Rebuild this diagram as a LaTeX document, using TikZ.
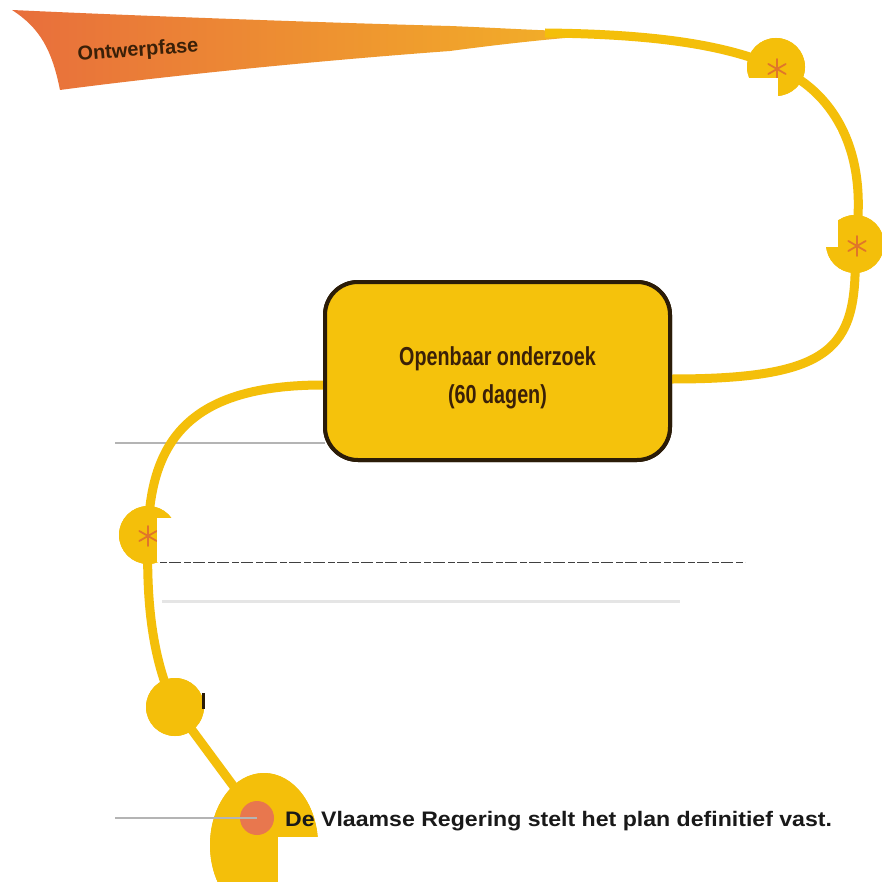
\documentclass[tikz,border=0pt]{standalone}
\usepackage{fontspec}
\setmainfont{Liberation Sans}
\usetikzlibrary{shapes.geometric}
\definecolor{roadyel}{HTML}{F4BF0A}
\definecolor{boxfill}{HTML}{F5C20C}
\definecolor{boxline}{HTML}{2B1C08}
\definecolor{astcol}{HTML}{E0762A}
\definecolor{bannerL}{HTML}{E86E3C}
\definecolor{bannerR}{HTML}{F2AE28}
\definecolor{dotorange}{HTML}{E8774E}
\definecolor{txtbrown}{HTML}{3A2008}
\definecolor{guide}{HTML}{B4B4B4}
\tikzset{
  road/.style={draw=roadyel, line width=9pt},
  stop/.style={circle, fill=roadyel, minimum size=58pt, inner sep=0pt},
  bigstop/.style={ellipse, fill=roadyel, minimum width=108pt, minimum height=144pt, inner sep=0pt},
  dotmark/.style={circle, fill=dotorange, minimum size=34pt, inner sep=0pt},
  mainbox/.style={draw=boxline, line width=4pt, fill=boxfill, rounded corners=33pt,
    minimum width=345pt, minimum height=178pt, align=center, text=txtbrown},
  guideline/.style={draw=guide, line width=1.5pt},
  mask/.style={fill=white, draw=none},
  astline/.style={draw=astcol, line width=1.8pt, line cap=round},
}
\newcommand{\astr}[1]{%
  \begin{scope}[shift={#1}]
  \draw[astline] (0,-10) -- (0,10);
  \draw[astline] (-8.7,-5) -- (8.7,5);
  \draw[astline] (-8.7,5) -- (8.7,-5);
  \end{scope}}
\begin{document}
\begin{tikzpicture}[x=1pt,y=-1pt]
\useasboundingbox (0,0) rectangle (881,882);
\fill[white] (0,0) rectangle (881,882);

% banner
\shade[left color=bannerL, right color=bannerR]
  (12,10) .. controls (120,15) and (300,22) .. (450,26)
  .. controls (500,28) and (530,30) .. (565,31)
  -- (565,38) .. controls (520,42) and (480,47) .. (450,51)
  .. controls (300,62) and (150,78) .. (60,90)
  .. controls (52,50) and (40,28) .. (12,10) -- cycle;
\node[rotate=4.5, text=txtbrown, font=\fontsize{20}{23}\selectfont\bfseries] (ontw) at (138,51) {Ontwerpfase};

% nodes
\node[stop] (c1) at (776,67) {};
\node[stop] (c2) at (855,244) {};
\node[stop] (c3) at (148,535) {};
\node[stop] (c4) at (175,707) {};
\node[bigstop] (fin) at (264,845) {};
\node[dotmark] (dot) at (257,818) {};
\coordinate (bannerEnd) at (545,33);

% guide line behind road
\draw[guideline] (115,443) -- (325,443);

% road
\draw[road] (bannerEnd) .. controls (640,34) and (720,42) .. (c1.center);
\draw[road] (c1.center) .. controls (832,90) and (870,150) .. (c2.center);
\node[mainbox] (box) at (497.5,371) {};
\draw[road] (c2.center) .. controls (858,345) and (840,379) .. ([yshift=-8pt]box.east);
\draw[road] ([yshift=-14pt]box.west) .. controls (190,385) and (150,440) .. (c3.center);
\draw[road] (c3.center) .. controls (146,600) and (152,660) .. (c4.center);
\draw[road] (c4.center) -- (dot.center);

% redraw stops on top of road
\node[stop] at (c1) {};
\node[stop] at (c2) {};
\node[stop] at (c3) {};
\node[stop] at (c4) {};
\node[bigstop] at (fin) {};
\node[dotmark] at (dot) {};
\draw[guideline] (115,818) -- (dot.center);

% box
\node[mainbox] (box2) at (box) {};
\node[text=txtbrown, align=center, font=\fontsize{26}{38}\selectfont\bfseries] (boxtext) at ([yshift=-7pt]box.center)
  {\scalebox{0.76}[1]{Openbaar onderzoek}\\\scalebox{0.76}[1]{(60 dagen)}};

% asterisks
\astr{(777,69)}
\astr{(857,246)}
\astr{(148,536)}

% masks
\fill[mask] (305,78) rectangle (778,130);
\fill[mask] (420,130) rectangle (838,247);
\fill[mask] (157,518) rectangle (760,562);
\fill[mask] (205,680) rectangle (700,730);
\fill[mask] (278,837) rectangle (881,882);

% residues
\draw[draw=black!75, line width=1pt, dash pattern=on 7pt off 2pt on 12pt off 3pt] (160,562.5) -- (745,562.5);
\draw[draw=black!10, line width=3pt] (162,601) -- (680,601);
\fill[boxline] (202,693) rectangle (205,709);

% final text
\node[anchor=base west, inner sep=0pt, text=black!90, font=\fontsize{21}{25}\selectfont\bfseries] (ftext) at (285,826)
  {\scalebox{1.1}[1]{De Vlaamse Regering stelt het plan definitief vast.}};
\end{tikzpicture}
\end{document}
